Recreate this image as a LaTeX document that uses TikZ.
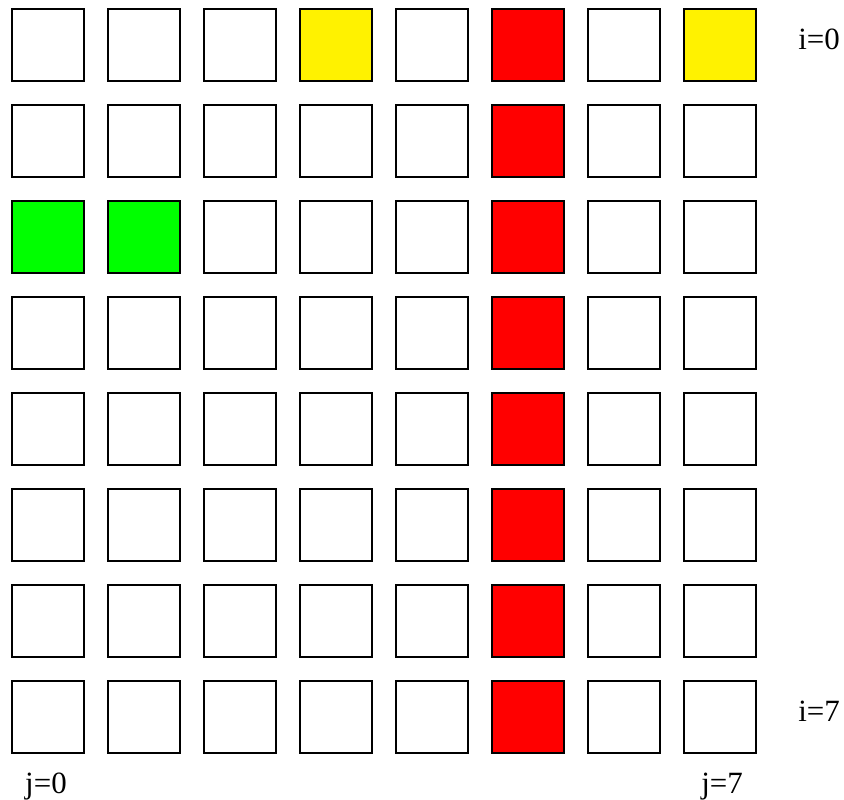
\documentclass[tikz,border=0pt]{standalone}
\usepackage{fontspec}
\setmainfont{Liberation Serif}
\usepackage{tikz}
\usetikzlibrary{positioning}
\usepackage{xcolor}

\tikzset{
    cell/.style={draw, line width=1pt, fill=white, minimum size=1.8cm, inner sep=0pt},
    idx/.style={font=\fontsize{22}{26}\selectfont, anchor=base, inner sep=0pt}
}

\begin{document}
\begin{tikzpicture}[x=0.025cm, y=-0.025cm]
            \useasboundingbox (0,0) rectangle (844,800);
            \foreach \i in {0,...,7} {
                \foreach \j in {0,...,7} {
                    \node[cell] (c\i\j) at (48+96*\j, 45+96*\i) {};
                }
            }
            \node[cell, fill=yellow] at (c03) {};
            \node[cell, fill=yellow] at (c07) {};
            \node[cell, fill=green] at (c20) {};
            \node[cell, fill=green] at (c21) {};
            \foreach \i in {0,...,7} {
                \node[cell, fill=red] at (c\i5) {};
            }
            \node[idx] (i0) at (819, 50) {i=0};
            \node[idx] (i7) at (819, 722) {i=7};
            \node[idx] (j0) at (46, 793) {j=0};
            \node[idx] (j7) at (722, 793) {j=7};
        \end{tikzpicture}
\end{document}
